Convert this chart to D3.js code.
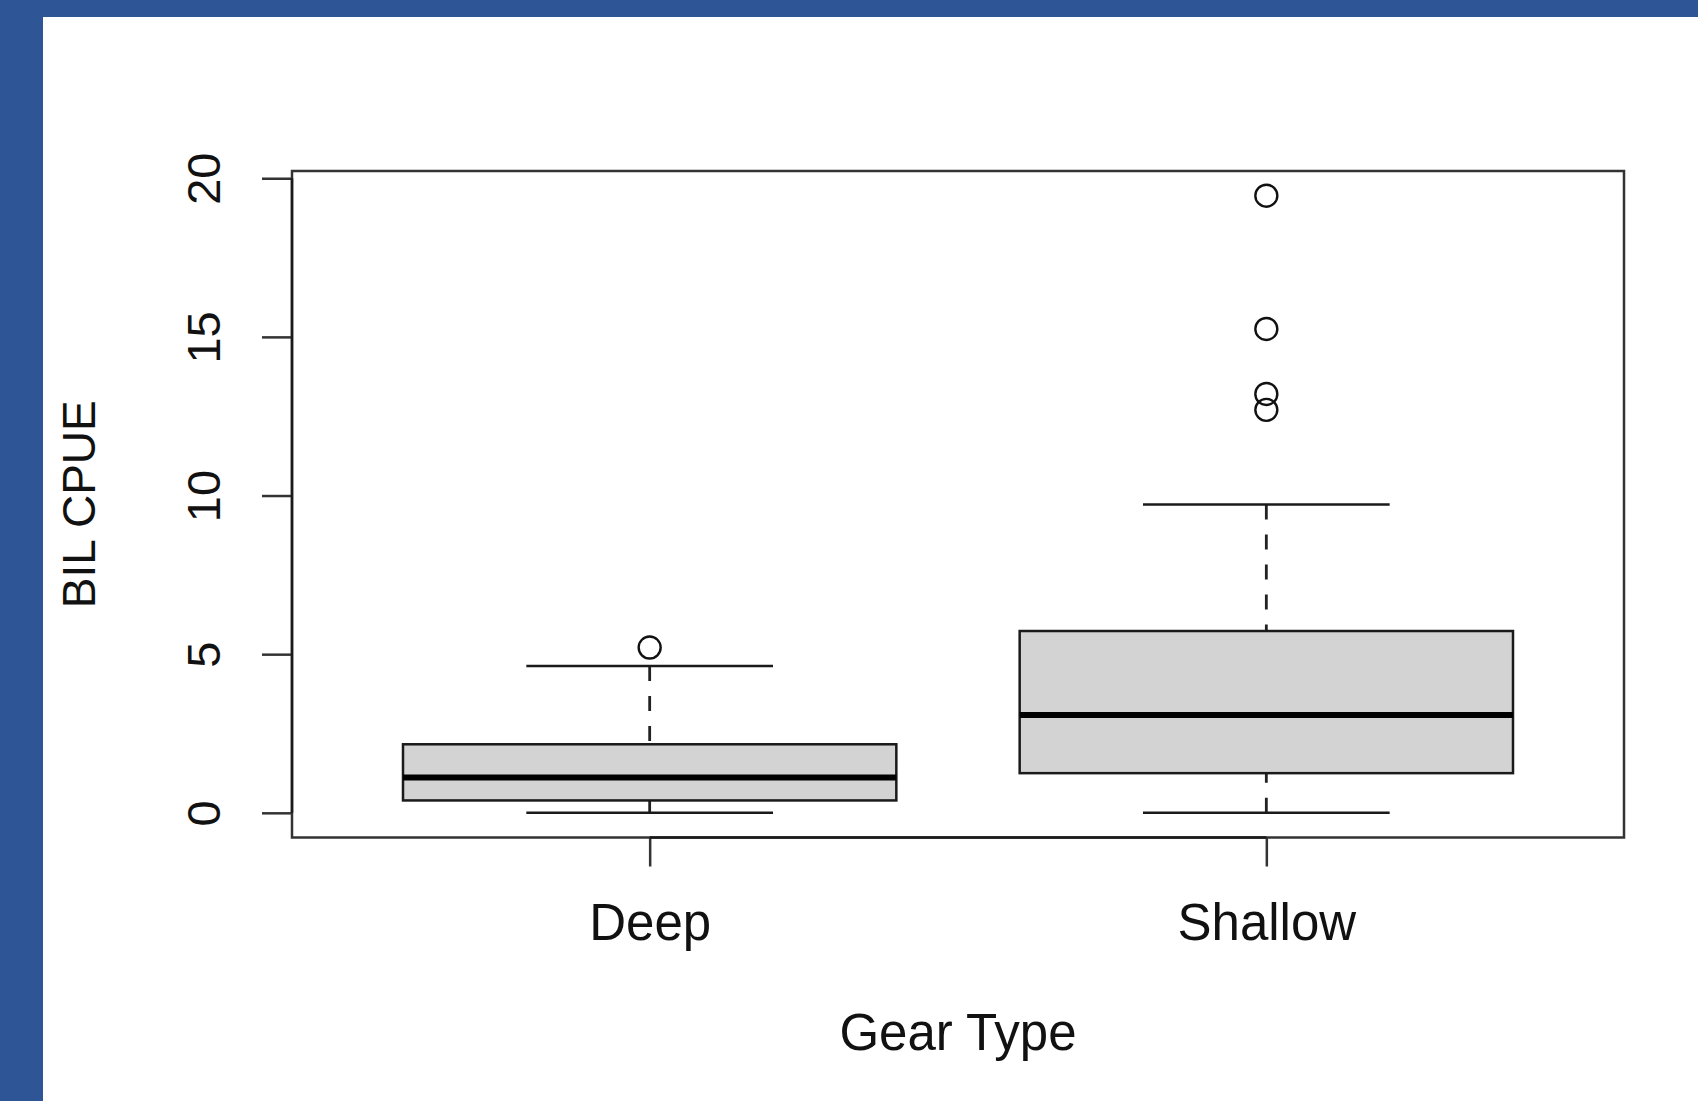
<!DOCTYPE html>
<html>
<head>
<meta charset="utf-8">
<script src="https://cdn.jsdelivr.net/npm/d3@7"></script>
<style>
  html, body { margin: 0; padding: 0; background: #fff; }
  svg { display: block; }
  text { font-family: 'Liberation Sans', Arial, Helvetica, sans-serif; fill: #111; }
</style>
</head>
<body>
<div id="chart"></div>
<script>
// box statistics
const groups = ['Deep', 'Shallow'];
const lowerWhisker = [0, 0];
const q1 = [0.39, 1.25];
const median = [1.11, 3.08];
const q3 = [2.16, 5.73];
const upperWhisker = [4.63, 9.72];
const outliers = [[5.21], [19.45, 15.25, 13.2, 12.7]];
const yTicks = [0, 5, 10, 15, 20];

const width = 1698;
const height = 1101;
const plot = { left: 292, right: 1624, top: 171, bottom: 837.5 };

const svg = d3.select('#chart')
  .append('svg')
  .attr('width', width)
  .attr('height', height);

// slide frame
svg.append('rect').attr('width', width).attr('height', height).attr('fill', '#2e5596');
svg.append('rect').attr('x', 43).attr('y', 17).attr('width', width - 43).attr('height', height - 17).attr('fill', '#fff');

// R style: xlim = [0.5, n + 0.5] and ylim = data range, both widened by 4%
const xlim = [0.5, groups.length + 0.5];
const xpad = (xlim[1] - xlim[0]) * 0.04;
const x = d3.scaleLinear().domain([xlim[0] - xpad, xlim[1] + xpad]).range([plot.left, plot.right]);

const allValues = lowerWhisker.concat(upperWhisker, outliers.flat());
const [ymin, ymax] = d3.extent(allValues);
const ypad = (ymax - ymin) * 0.04;
const y = d3.scaleLinear().domain([ymin - ypad, ymax + ypad]).range([plot.bottom, plot.top]);

const boxwex = 0.8;
const staplewex = 0.5;

const boxes = groups.map((name, i) => ({
  name,
  pos: i + 1,
  lo: lowerWhisker[i],
  q1: q1[i],
  med: median[i],
  q3: q3[i],
  hi: upperWhisker[i],
  out: outliers[i],
}));

const g = svg.append('g').attr('class', 'boxes');

boxes.forEach((b) => {
  const cx = x(b.pos);
  const half = (x(b.pos + boxwex / 2) - x(b.pos - boxwex / 2)) / 2;
  const cap = half * staplewex;
  const grp = g.append('g');

  // whiskers, dashed, drawn from the whisker end toward the box
  [[b.lo, b.q1], [b.hi, b.q3]].forEach(([from, to]) => {
    grp.append('line')
      .attr('x1', cx).attr('x2', cx)
      .attr('y1', y(from)).attr('y2', y(to))
      .attr('stroke', '#222').attr('stroke-width', 2.8)
      .attr('stroke-dasharray', '15,15');
  });

  // staples
  [b.lo, b.hi].forEach((v) => {
    grp.append('line')
      .attr('x1', cx - cap).attr('x2', cx + cap)
      .attr('y1', y(v)).attr('y2', y(v))
      .attr('stroke', '#1a1a1a').attr('stroke-width', 2.5);
  });

  grp.append('rect')
    .attr('x', cx - half)
    .attr('y', y(b.q3))
    .attr('width', half * 2)
    .attr('height', y(b.q1) - y(b.q3))
    .attr('fill', '#d3d3d3')
    .attr('stroke', '#1a1a1a')
    .attr('stroke-width', 2.5);

  grp.append('line')
    .attr('x1', cx - half).attr('x2', cx + half)
    .attr('y1', y(b.med)).attr('y2', y(b.med))
    .attr('stroke', '#000').attr('stroke-width', 6);

  grp.selectAll('circle')
    .data(b.out)
    .join('circle')
    .attr('cx', cx)
    .attr('cy', (d) => y(d))
    .attr('r', 11)
    .attr('fill', 'none')
    .attr('stroke', '#111')
    .attr('stroke-width', 2.4);
});

// plot frame
svg.append('rect')
  .attr('x', plot.left)
  .attr('y', plot.top)
  .attr('width', plot.right - plot.left)
  .attr('height', plot.bottom - plot.top)
  .attr('fill', 'none')
  .attr('stroke', '#333')
  .attr('stroke-width', 2.5);

// y axis
const yAxis = svg.append('g')
  .attr('transform', `translate(${plot.left},0)`)
  .call(d3.axisLeft(y).tickValues(yTicks).tickSize(30).tickPadding(0).tickFormat(d3.format('d')));
yAxis.select('.domain').remove();
yAxis.append('line')
  .attr('y1', y(yTicks[0])).attr('y2', y(yTicks[yTicks.length - 1]))
  .attr('stroke', '#1a1a1a').attr('stroke-width', 2.5);
yAxis.selectAll('.tick line').attr('stroke', '#333').attr('stroke-width', 2.5);
yAxis.selectAll('.tick text')
  .attr('x', null).attr('dy', null)
  .attr('text-anchor', 'middle')
  .attr('transform', 'translate(-72,0) rotate(-90)')
  .attr('font-size', 47)
  .attr('fill', '#111');

// x axis
const xAxis = svg.append('g')
  .attr('transform', `translate(0,${plot.bottom})`)
  .call(d3.axisBottom(x).tickValues(boxes.map((b) => b.pos)).tickSize(29).tickPadding(0)
    .tickFormat((d) => groups[d - 1]));
xAxis.select('.domain').remove();
xAxis.append('line')
  .attr('x1', x(1)).attr('x2', x(groups.length))
  .attr('stroke', '#1a1a1a').attr('stroke-width', 2.5);
xAxis.selectAll('.tick line').attr('stroke', '#333').attr('stroke-width', 2.5);
xAxis.selectAll('.tick text')
  .attr('y', 102).attr('dy', null)
  .attr('font-size', 51)
  .attr('fill', '#111');

// axis titles
svg.append('text')
  .attr('x', x(1.5))
  .attr('y', 1050)
  .attr('text-anchor', 'middle')
  .attr('font-size', 51)
  .text('Gear Type');

svg.append('text')
  .attr('transform', `translate(95,${(plot.top + plot.bottom) / 2}) rotate(-90)`)
  .attr('text-anchor', 'middle')
  .attr('font-size', 46)
  .text('BIL CPUE');
</script>
</body>
</html>
